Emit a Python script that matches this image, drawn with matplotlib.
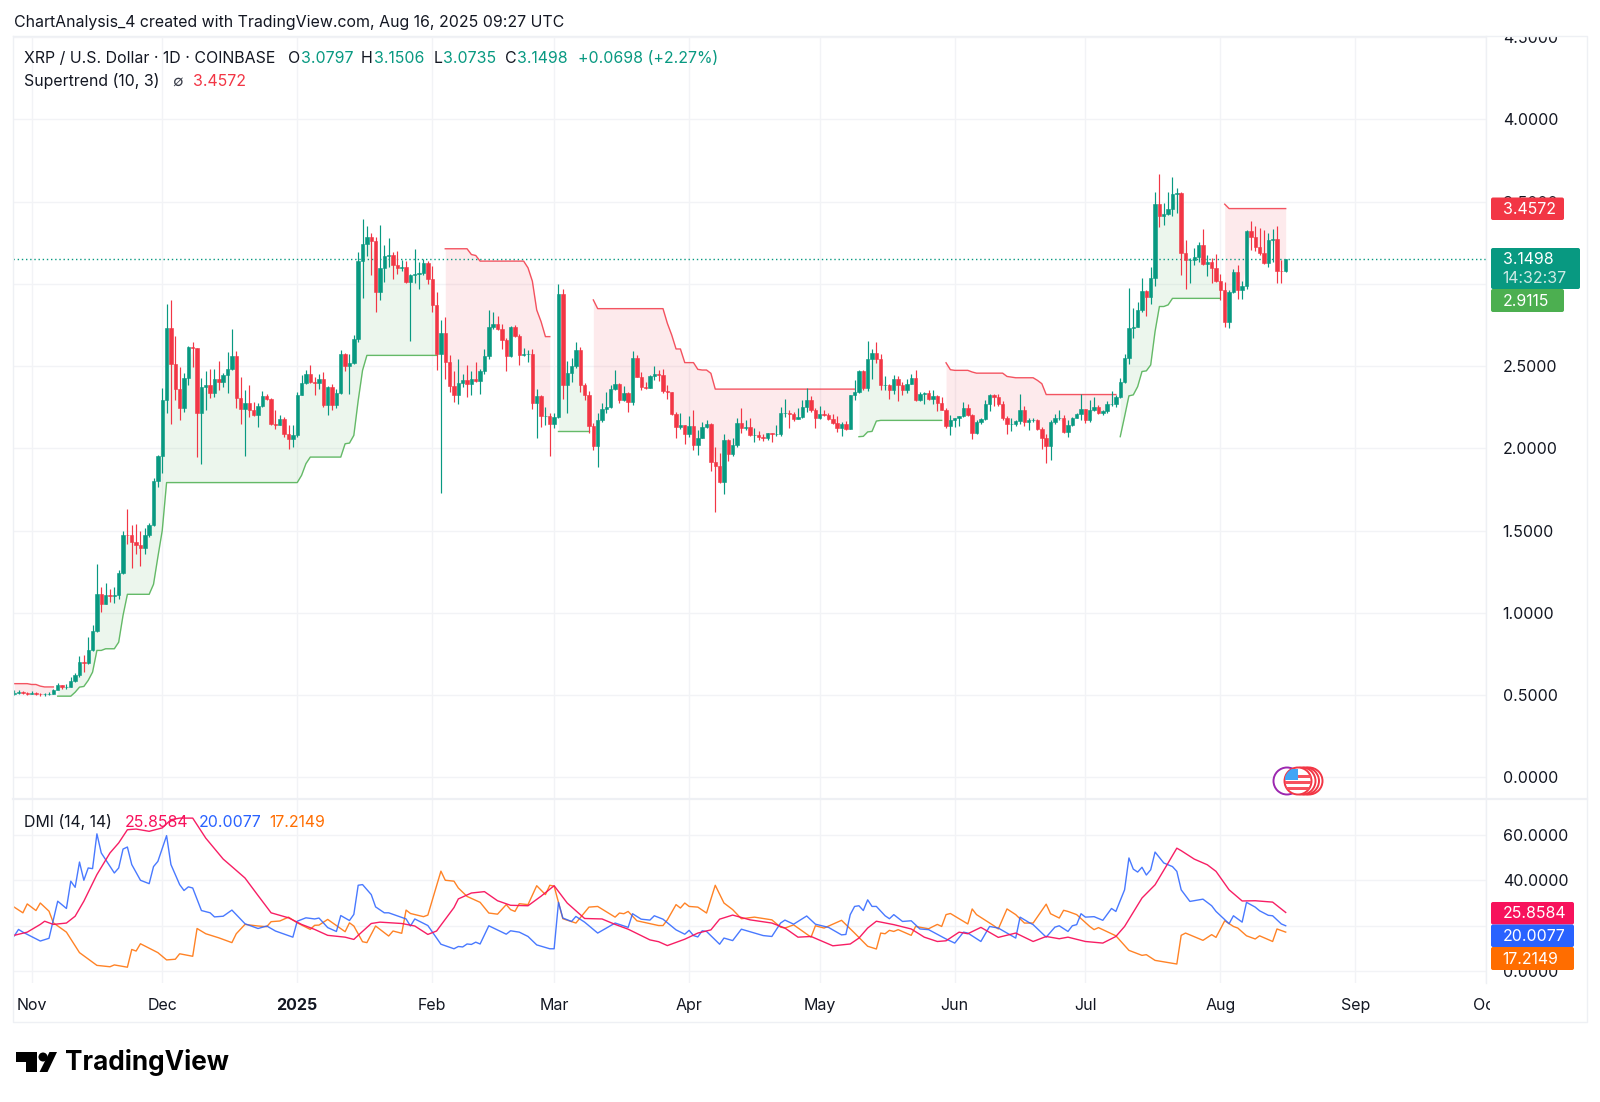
import matplotlib
matplotlib.use('Agg')
import matplotlib.pyplot as plt
import numpy as np
from matplotlib.patches import Circle, Polygon, Rectangle, FancyBboxPatch
from matplotlib.transforms import Bbox

plt.rcParams['font.family'] = ['Inter', 'DejaVu Sans']

W, H = 1600, 1102
GREEN = '#089981'
RED = '#F23645'
ST_GREEN = '#4CAF50'
PINK = '#F7125C'
BLUE = '#2962FF'
ORANGE = '#FF6D00'
GRID = '#F2F3F6'
FRAME = '#EEF0F4'
INK = '#131722'

# day numbers count from Nov 1 2024, first candle is Oct 28
first_day = -4
closes = [
    .515, .52, .515, .51, .515, .51, .505, .505, .51, .53,
    .559, .552, .552, .585, .624, .70, .697, .772, .89, 1.117,
    1.056, 1.106, 1.10, 1.106, 1.244, 1.476, 1.472, 1.431, 1.41, 1.397,
    1.472, 1.536, 1.802, 1.952, 2.293, 2.729, 2.512, 2.36, 2.246, 2.429,
    2.614, 2.608, 2.212, 2.374, 2.388, 2.338, 2.421, 2.405, 2.445, 2.482,
    2.563, 2.307, 2.238, 2.277, 2.232, 2.20, 2.259, 2.319, 2.297, 2.145,
    2.142, 2.18, 2.09, 2.055, 2.08, 2.326, 2.399, 2.449, 2.403, 2.397,
    2.419, 2.265, 2.372, 2.265, 2.338, 2.575, 2.50, 2.518, 2.666, 3.138,
    3.239, 3.287, 3.263, 2.953, 3.097, 3.168, 3.176, 3.117, 3.097, 3.101,
    3.014, 3.051, 3.061, 3.067, 3.128, 3.03, 2.874, 2.575, 2.70, 2.524,
    2.379, 2.322, 2.397, 2.417, 2.393, 2.419, 2.409, 2.468, 2.559, 2.737,
    2.757, 2.727, 2.66, 2.559, 2.737, 2.684, 2.565, 2.575, 2.575, 2.275,
    2.316, 2.194, 2.199, 2.146, 2.193, 2.938, 2.385, 2.456, 2.501, 2.598,
    2.385, 2.324, 2.136, 2.016, 2.172, 2.237, 2.253, 2.359, 2.391, 2.294,
    2.334, 2.284, 2.551, 2.436, 2.375, 2.365, 2.44, 2.452, 2.448, 2.351,
    2.341, 2.207, 2.132, 2.142, 2.087, 2.136, 2.02, 2.065, 2.128, 2.148,
    1.919, 1.895, 1.794, 2.051, 1.966, 2.02, 2.156, 2.122, 2.132, 2.081,
    2.081, 2.067, 2.065, 2.091, 2.087, 2.089, 2.213, 2.217, 2.209, 2.178,
    2.193, 2.249, 2.294, 2.235, 2.186, 2.211, 2.20, 2.18, 2.154, 2.123,
    2.15, 2.119, 2.322, 2.34, 2.47, 2.368, 2.54, 2.579, 2.545, 2.383,
    2.383, 2.352, 2.423, 2.383, 2.352, 2.393, 2.429, 2.291, 2.328, 2.338,
    2.302, 2.318, 2.275, 2.235, 2.136, 2.17, 2.184, 2.196, 2.247, 2.20,
    2.093, 2.16, 2.18, 2.267, 2.322, 2.312, 2.267, 2.186, 2.146, 2.15,
    2.164, 2.235, 2.16, 2.174, 2.174, 2.117, 2.063, 2.012, 2.16, 2.186,
    2.186, 2.099, 2.142, 2.187, 2.209, 2.24, 2.173, 2.234, 2.254, 2.217,
    2.225, 2.27, 2.27, 2.311, 2.406, 2.552, 2.734, 2.74, 2.841, 2.957,
    2.922, 3.038, 3.484, 3.415, 3.423, 3.453, 3.547, 3.551, 3.186, 3.145,
    3.145, 3.162, 3.237, 3.121, 3.131, 3.095, 3.018, 2.963, 2.77, 2.949,
    3.07, 2.963, 2.989, 3.322, 3.287, 3.226, 3.186, 3.125, 3.267, 3.273,
    3.08, 3.0797, 3.1498,
]
highs = [
    .53, .53, .525, .52, .525, .52, .515, .515, .52, .54,
    .575, .563, .565, .61, .634, .741, .747, .853, .924, 1.30,
    1.157, 1.18, 1.143, 1.157, 1.263, 1.50, 1.63, 1.532, 1.539, 1.50,
    1.518, 1.549, 1.82, 1.958, 2.364, 2.877, 2.90, 2.683, 2.496, 2.455,
    2.622, 2.648, 2.608, 2.425, 2.47, 2.48, 2.48, 2.532, 2.455, 2.583,
    2.723, 2.591, 2.431, 2.354, 2.384, 2.283, 2.273, 2.348, 2.33, 2.309,
    2.232, 2.20, 2.192, 2.141, 2.144, 2.342, 2.443, 2.478, 2.504, 2.433,
    2.453, 2.464, 2.377, 2.389, 2.362, 2.599, 2.579, 2.575, 2.686, 3.192,
    3.395, 3.35, 3.308, 3.283, 3.36, 3.233, 3.279, 3.192, 3.202, 3.142,
    3.138, 3.061, 3.213, 3.132, 3.148, 3.138, 3.111, 2.949, 2.781, 2.798,
    2.565, 2.47, 2.54, 2.453, 2.504, 2.47, 2.524, 2.484, 2.605, 2.838,
    2.828, 2.802, 2.757, 2.672, 2.741, 2.747, 2.696, 2.611, 2.595, 2.605,
    2.362, 2.322, 2.253, 2.213, 2.213, 2.999, 2.968, 2.533, 2.547, 2.648,
    2.614, 2.395, 2.351, 2.152, 2.213, 2.274, 2.344, 2.385, 2.476, 2.399,
    2.379, 2.344, 2.594, 2.567, 2.466, 2.405, 2.446, 2.503, 2.476, 2.48,
    2.385, 2.345, 2.223, 2.213, 2.142, 2.197, 2.233, 2.112, 2.162, 2.172,
    2.156, 2.01, 1.97, 2.087, 2.057, 2.061, 2.182, 2.243, 2.172, 2.182,
    2.122, 2.108, 2.087, 2.095, 2.095, 2.142, 2.253, 2.30, 2.233, 2.223,
    2.243, 2.294, 2.365, 2.316, 2.247, 2.259, 2.235, 2.215, 2.211, 2.194,
    2.16, 2.166, 2.326, 2.417, 2.474, 2.478, 2.652, 2.601, 2.646, 2.571,
    2.437, 2.393, 2.447, 2.439, 2.403, 2.423, 2.453, 2.478, 2.342, 2.342,
    2.352, 2.352, 2.322, 2.312, 2.247, 2.20, 2.186, 2.197, 2.281, 2.267,
    2.206, 2.174, 2.186, 2.296, 2.328, 2.328, 2.328, 2.287, 2.194, 2.186,
    2.174, 2.332, 2.259, 2.186, 2.182, 2.18, 2.13, 2.085, 2.174, 2.211,
    2.231, 2.20, 2.17, 2.193, 2.213, 2.329, 2.24, 2.294, 2.31, 2.264,
    2.234, 2.288, 2.351, 2.325, 2.43, 2.572, 2.977, 2.852, 2.892, 3.034,
    2.963, 3.101, 3.555, 3.666, 3.49, 3.557, 3.652, 3.581, 3.555, 3.267,
    3.155, 3.216, 3.253, 3.332, 3.176, 3.155, 3.18, 3.058, 3.01, 2.963,
    3.091, 3.115, 3.018, 3.328, 3.382, 3.354, 3.338, 3.324, 3.307, 3.332,
    3.352, 3.145, 3.1506,
]
lows = [
    .50, .505, .505, .50, .505, .50, .495, .495, .50, .505,
    .535, .54, .54, .549, .58, .61, .64, .687, .768, .883,
    1.005, 1.052, 1.066, 1.06, 1.086, 1.238, 1.42, 1.273, 1.36, 1.283,
    1.356, 1.461, 1.526, 1.766, 1.851, 2.212, 2.151, 2.293, 2.171, 2.222,
    2.384, 2.492, 1.948, 1.904, 2.232, 2.309, 2.313, 2.354, 2.374, 2.334,
    2.476, 2.246, 2.151, 1.952, 2.192, 2.196, 2.131, 2.253, 2.293, 2.141,
    2.115, 2.141, 2.07, 1.996, 2.008, 2.069, 2.322, 2.393, 2.397, 2.322,
    2.362, 2.251, 2.20, 2.235, 2.247, 2.332, 2.468, 2.328, 2.514, 2.646,
    2.915, 3.172, 3.055, 2.828, 2.903, 3.01, 3.10, 3.03, 3.057, 3.077,
    3.006, 2.652, 3.004, 2.966, 3.055, 3.0, 2.828, 2.474, 1.731, 2.423,
    2.342, 2.281, 2.271, 2.372, 2.312, 2.322, 2.403, 2.332, 2.453, 2.54,
    2.727, 2.717, 2.605, 2.468, 2.555, 2.676, 2.504, 2.561, 2.524, 2.237,
    2.065, 2.13, 2.142, 1.954, 2.122, 2.182, 2.298, 2.213, 2.405, 2.486,
    2.345, 2.294, 2.091, 1.99, 1.889, 2.162, 2.217, 2.243, 2.355, 2.274,
    2.288, 2.223, 2.264, 2.432, 2.355, 2.359, 2.365, 2.415, 2.41, 2.335,
    2.30, 2.20, 2.061, 2.116, 2.026, 2.071, 1.99, 1.96, 2.061, 2.122,
    1.863, 1.615, 1.788, 1.723, 1.925, 1.954, 2.01, 2.091, 2.112, 2.075,
    2.041, 2.051, 2.047, 2.051, 2.041, 2.075, 2.075, 2.193, 2.122, 2.168,
    2.178, 2.183, 2.223, 2.221, 2.125, 2.18, 2.194, 2.174, 2.146, 2.099,
    2.075, 2.109, 2.117, 2.296, 2.338, 2.352, 2.348, 2.423, 2.52, 2.352,
    2.352, 2.302, 2.332, 2.285, 2.322, 2.338, 2.389, 2.287, 2.287, 2.267,
    2.291, 2.271, 2.227, 2.231, 2.126, 2.083, 2.13, 2.134, 2.19, 2.194,
    2.059, 2.085, 2.146, 2.17, 2.227, 2.255, 2.26, 2.17, 2.085, 2.105,
    2.136, 2.15, 2.134, 2.113, 2.16, 2.113, 1.998, 1.911, 1.927, 2.146,
    2.174, 2.093, 2.069, 2.136, 2.183, 2.173, 2.153, 2.163, 2.227, 2.207,
    2.203, 2.213, 2.26, 2.254, 2.304, 2.396, 2.513, 2.669, 2.736, 2.831,
    2.807, 2.878, 2.989, 3.348, 3.358, 3.419, 3.415, 3.429, 3.054, 2.967,
    3.004, 3.115, 3.135, 3.115, 3.05, 3.004, 3.01, 2.902, 2.74, 2.734,
    2.943, 2.906, 2.906, 2.969, 3.206, 3.2, 3.176, 3.121, 3.105, 3.135,
    3.004, 3.004, 3.0735,
]
first_open = .51

# supertrend runs: start day and one value per day
st_red_1 = (-4, [.57, .57, .57, .57, .565, .565, .555, .55, .55, .55])
st_green_1 = (6, [.494, .494, .494, .494, .518, .549, .553, .59, .64, .772, .772, .782, .782, .782,
                  .822, .985, 1.113, 1.113, 1.113, 1.113, 1.113, 1.113, 1.174, 1.34, 1.50]
              + [1.792] * 31
              + [1.836, 1.907] + [1.947] * 8 + [2.028, 2.032, 2.079, 2.29, 2.474] + [2.565] * 17)
st_red_2 = (95, [3.213] * 6 + [3.178, 3.172] + [3.138] * 11 + [3.097, 3.016, 2.841, 2.77, 2.679, 2.679])
st_green_2 = (121, [2.106] * 8)
st_red_3 = (129, [2.902] + [2.849] * 16 + [2.76, 2.689, 2.604, 2.604, 2.521, 2.521, 2.521, 2.48,
                                           2.476, 2.476, 2.456] + [2.36] * 33)
st_green_3 = (190, [2.071, 2.073, 2.10, 2.103, 2.166] + [2.17] * 15)
st_red_4 = (210, [2.52, 2.478, 2.474, 2.474, 2.474, 2.474, 2.464] + [2.457] * 7
            + [2.437, 2.433, 2.429, 2.429, 2.429, 2.429, 2.429, 2.413, 2.393] + [2.327] * 17)
st_green_4 = (250, [2.071, 2.193, 2.319, 2.325, 2.375, 2.467, 2.471, 2.507, 2.71, 2.862, 2.862, 2.872]
              + [2.9115] * 12)
st_red_5 = (274, [3.484] + [3.4572] * 14)

adx_days = [-4, -1, 2, 3, 5, 8, 10, 12, 15, 18, 20, 22, 24, 27, 30, 32, 34, 37, 40, 44, 46, 49, 52, 55, 59, 62,
            65, 68, 72, 74, 75, 78, 80, 85, 88, 91, 93, 97, 98, 101, 104, 107, 110, 114, 117, 120, 123, 127,
            131, 134, 137, 142, 144, 146, 150, 153, 156, 158, 161, 165, 170, 173, 176, 179, 184, 188, 190,
            192, 194, 198, 202, 205, 208, 210, 213, 215, 218, 222, 226, 230, 233, 236, 238, 242, 246, 249,
            251, 255, 258, 261, 263, 264, 267, 270, 272, 275, 278, 281, 285, 288]
adx_vals = [15.8, 17.2, 20.6, 22, 20.6, 21.2, 24.2, 30.8, 42.5, 52, 56.4, 62.2, 62.5, 61.5, 63, 66.6, 67.3, 67.3,
            58.5, 49.3, 46, 41, 33.3, 25.7, 23.5, 20.6, 18.4, 15.8, 15, 14, 15.8, 21, 21.6, 21, 19.9, 16.2,
            17.7, 28, 31.8, 34.4, 35, 31, 29, 28.8, 33, 37.6, 30, 23.2, 23, 20.6, 18.5, 13.8, 13, 11.3, 14.1,
            16.8, 18.2, 22.9, 24.7, 22.6, 21.2, 19, 15, 15.3, 11.2, 12, 14.6, 19, 22, 20.5, 18.6, 15, 13.1,
            13.4, 17.2, 16.5, 19.3, 14.9, 16.8, 13.1, 15.3, 14.3, 15, 13.1, 12.4, 15.3, 19.7, 32.2, 38, 47.6,
            54.1, 53, 49.3, 46.8, 43.9, 35.8, 30.9, 31, 30.4, 25.8584]
plus_days = [-4, -3, -2, 2, 4, 6, 8, 9, 10, 11, 12, 13, 14, 15, 16, 19, 20, 21, 22, 23, 25, 27, 28, 29, 31, 32,
             34, 35, 36, 37, 39, 41, 42, 44, 46, 49, 52, 54, 56, 60, 61, 63, 65, 66, 68, 70, 71, 73, 74, 75,
             76, 78, 79, 81, 82, 86, 87, 88, 91, 94, 97, 98, 99, 100, 101, 102, 103, 105, 109, 110, 112, 114,
             116, 119, 120, 121, 122, 124, 125, 127, 130, 134, 137, 138, 140, 142, 143, 145, 148, 150, 151,
             152, 153, 154, 155, 158, 159, 161, 163, 168, 170, 172, 173, 175, 178, 180, 183, 186, 187, 188,
             189, 190, 191, 192, 193, 194, 196, 197, 198, 200, 202, 204, 206, 210, 212, 214, 215, 218, 220,
             222, 226, 227, 229, 230, 233, 235, 236, 238, 239, 240, 241, 242, 244, 246, 248, 249, 251, 252,
             253, 254, 255, 256, 257, 258, 260, 262, 263, 264, 266, 269, 271, 272, 275, 276, 278, 279, 281,
             282, 284, 285, 287, 288]
plus_vals = [15.5, 18.4, 17.2, 13.3, 14.5, 30.8, 27.6, 39.6, 36.9, 48, 40, 45.4, 45.1, 60.4, 52, 43.2, 45.4, 53.7,
             54.6, 46.9, 40, 38.5, 46, 48.3, 59.6, 46.9, 38.1, 35.5, 37.1, 36.6, 26.7, 25.7, 23.9, 24.2, 26.9,
             20.9, 18.8, 19.9, 17.7, 15, 22, 23.5, 23, 23.4, 19.2, 17.5, 24.5, 22.3, 25, 37.8, 38.1, 33.7, 28.3,
             25.7, 25.7, 23, 19.9, 23, 20.1, 11.9, 9.9, 10.9, 10.7, 12, 11.8, 12.8, 12, 20, 16.3, 17.8, 17.2,
             15.3, 11.6, 9.9, 9.9, 30.3, 23.4, 21.9, 24.1, 21.6, 16.8, 21.2, 19.3, 25.3, 22.9, 22.5, 24.4, 22.9,
             18.2, 16.3, 18, 15.7, 15.1, 17.8, 17.5, 11.9, 14.6, 13.5, 18.5, 15.7, 15.3, 21.2, 22.5, 20.7, 24.3,
             20.7, 19.3, 16, 16.2, 24.9, 28.5, 28.8, 26.7, 31.4, 28.5, 28.5, 24.4, 23.1, 24.9, 21.9, 22.2, 18.6,
             18.3, 14.2, 12.4, 17.2, 16.8, 13.1, 19.7, 19, 14.6, 23.8, 21.5, 20.5, 15, 19.4, 20, 17.5, 20, 20.5,
             25.3, 23.8, 24, 22.4, 27.6, 26.3, 35.8, 49.8, 44.9, 43.6, 45.7, 42.3, 44.6, 52.4, 47.6, 46, 43.9,
             35.8, 30.7, 31.7, 28.8, 26.3, 20.9, 24.4, 21.6, 30.3, 28.2, 26.6, 24.6, 24.4, 20.8, 20.0077]
minus_days = [-4, -2, -1, 1, 2, 4, 5, 8, 11, 15, 18, 19, 22, 23, 24, 25, 29, 31, 33, 34, 37, 38, 40, 43, 46, 47,
              49, 52, 54, 55, 57, 59, 61, 64, 65, 66, 68, 72, 73, 74, 76, 77, 79, 82, 83, 85, 86, 87, 90, 91,
              94, 95, 97, 98, 100, 103, 105, 107, 109, 110, 111, 112, 114, 116, 118, 119, 120, 122, 125, 128,
              130, 134, 135, 136, 137, 139, 144, 145, 146, 148, 149, 150, 151, 153, 155, 157, 159, 161, 163,
              166, 170, 172, 173, 175, 179, 180, 182, 186, 189, 192, 194, 195, 196, 197, 198, 199, 202, 203,
              206, 208, 209, 210, 211, 215, 216, 217, 221, 222, 224, 226, 228, 230, 233, 234, 236, 237, 238,
              240, 243, 244, 245, 249, 252, 255, 256, 258, 263, 264, 265, 269, 271, 272, 274, 276, 277, 279,
              281, 282, 285, 286, 288]
minus_vals = [28.2, 25.7, 29.6, 26.7, 30, 26.4, 21.3, 17.2, 8.2, 2.6, 2, 2.8, 1.8, 9.6, 8.9, 12.1, 8.2, 5, 5.3,
              7.7, 6.6, 18.8, 16.5, 14.7, 12.6, 16.5, 20.6, 19.9, 19.6, 21.8, 22.1, 23.8, 21.3, 18.4, 20.2, 20.3,
              22.8, 17.4, 21.3, 19.9, 13, 12.6, 19.9, 15.5, 17.7, 16.7, 26.9, 25.4, 24, 24.7, 44, 40, 39.6, 36.6,
              32.9, 30.3, 25.6, 25.1, 29.3, 27.1, 26.3, 29.7, 29.3, 37.6, 33.7, 37.8, 37.4, 23.1, 21.2, 28.2,
              28.5, 23.8, 25.6, 25.3, 26.3, 22.2, 20.1, 20.1, 22.6, 29.3, 27.8, 30, 28.5, 28.2, 25.6, 37.8, 30,
              27.1, 23.1, 23.8, 22.6, 19.4, 19, 20.4, 15, 20, 19, 22.4, 16.8, 11, 9.8, 16.8, 16.5, 18, 17.5, 18.3,
              15.8, 19.7, 18.7, 20.6, 19.7, 24.9, 25.4, 20.8, 27.4, 24.9, 20, 18.6, 27.4, 24.9, 21.2, 21.2, 29.5,
              25.3, 23.4, 26.8, 26.3, 24.9, 19.7, 18.3, 19.2, 15.6, 9.2, 7, 7.3, 4.8, 3.2, 15.8, 16.8, 13.6, 16.1,
              14.9, 22.2, 19.7, 19, 15.6, 14.2, 15.6, 13.1, 18.6, 17.2149]

month_days = [0, 30, 61, 92, 120, 151, 181, 212, 242, 273, 304, 334]
month_labels = ['Nov', 'Dec', '2025', 'Feb', 'Mar', 'Apr', 'May', 'Jun', 'Jul', 'Aug', 'Sep', 'Oct']
price_ticks = [0, .5, 1, 1.5, 2, 2.5, 3, 3.5, 4, 4.5]
dmi_ticks = [0, 20, 40, 60]
# these two labels sit fully behind the value tags
hidden_ticks = [3, 20]

fig = plt.figure(figsize=(W / 100, H / 100), dpi=100, facecolor='white')


def box(left, top, right, bottom):
    return [left / W, 1 - bottom / H, (right - left) / W, (bottom - top) / H]


ax = fig.add_axes(box(13, 36, 1486, 799))
ax_dmi = fig.add_axes(box(13, 799, 1486, 983), sharex=ax)

days = np.arange(first_day, first_day + len(closes))
closes = np.array(closes)
highs = np.array(highs)
lows = np.array(lows)
opens = np.r_[first_open, closes[:-1]]
colors = [GREEN if c >= o else RED for o, c in zip(opens, closes)]
mids = (opens + closes) / 2

# supertrend with fill to the candle body middle
for start, vals, col in [(*st_red_1, RED), (*st_green_1, ST_GREEN), (*st_red_2, RED), (*st_green_2, ST_GREEN),
                         (*st_red_3, RED), (*st_green_3, ST_GREEN), (*st_red_4, RED), (*st_green_4, ST_GREEN),
                         (*st_red_5, RED)]:
    seg = np.arange(start, start + len(vals))
    ax.fill_between(seg, vals, mids[seg - first_day], color=col, alpha=0.1, lw=0, zorder=1)
    ax.plot(seg, vals, color=col, lw=1.0, alpha=0.85, zorder=2, solid_joinstyle='round')

ax.axhline(closes[-1], color=GREEN, lw=1, ls=(0, (1, 2)), zorder=2)
ax.vlines(days, lows, highs, colors=colors, lw=0.85, zorder=3)
ax.bar(days, closes - opens, bottom=opens, width=0.78, color=colors, edgecolor=colors, lw=0.4, zorder=4)

ax_dmi.plot(minus_days, minus_vals, color=ORANGE, lw=1.0, alpha=0.85, zorder=3)
ax_dmi.plot(plus_days, plus_vals, color=BLUE, lw=1.0, alpha=0.85, zorder=4)
ax_dmi.plot(adx_days, adx_vals, color=PINK, lw=1.0, alpha=0.95, zorder=5)

ax.set_xlim(-4.27, 333.9)
ax.set_ylim(-0.131, 4.506)
ax_dmi.set_ylim(-5.14, 75.7)

for a in (ax, ax_dmi):
    a.set_facecolor('none')
    a.grid(True, color=GRID, lw=1.0)
    a.set_axisbelow(True)
    a.yaxis.tick_right()
    for s in a.spines.values():
        s.set_visible(False)
    a.tick_params(length=0)

ax.set_yticks(price_ticks)
ax.set_yticklabels(['' if t in hidden_ticks else f'{t:.4f}' for t in price_ticks], fontsize=11.5, color=INK)
ax_dmi.set_yticks(dmi_ticks)
ax_dmi.set_yticklabels(['' if t in hidden_ticks else f'{t:.4f}' for t in dmi_ticks], fontsize=11.5, color=INK)
ax.tick_params(axis='y', pad=12)
ax_dmi.tick_params(axis='y', pad=12)
ax.tick_params(axis='x', labelbottom=False)
ax_dmi.set_xticks(month_days)
ax_dmi.set_xticklabels(month_labels, fontsize=11.5, color=INK)
ax_dmi.tick_params(axis='x', pad=11)
for lab in ax_dmi.get_xticklabels():
    lab.set_clip_box(Bbox([[0, 0], [1490, H]]))
    lab.set_clip_on(True)
    if lab.get_text() == '2025':
        lab.set_fontweight('bold')
for lab in ax.get_yticklabels():
    lab.set_clip_box(Bbox([[0, 0], [W, H - 36]]))
    lab.set_clip_on(True)

# everything else is placed in picture pixels
over = fig.add_axes([0, 0, 1, 1], zorder=10)
over.set_xlim(0, W)
over.set_ylim(H, 0)
over.axis('off')
over.patch.set_alpha(0)


def put(x, y, s, color=INK, size=11.45, **kw):
    kw.setdefault('va', 'center')
    over.text(x, y + 1.2, s, color=color, fontsize=size, **kw)


def tag(left, top, right, bottom, color):
    over.add_patch(FancyBboxPatch((left + 1, top + 1), right - left - 2, bottom - top - 2,
                                  boxstyle='round,pad=1,rounding_size=2', fc=color, ec='none'))


# frame lines
over.plot([13, 1587, 1587, 13, 13], [36, 36, 1022, 1022, 36], color=FRAME, lw=1)
over.plot([13, 1587], [799, 799], color=FRAME, lw=1.6)
over.plot([1486, 1486], [36, 983], color=FRAME, lw=1)

put(14, 21, 'ChartAnalysis_4 created with TradingView.com, Aug 16, 2025 09:27 UTC')

put(24.5, 57.5, 'XRP / U.S. Dollar · 1D · COINBASE')
for x, s in [(288, 'O'), (361, 'H'), (434, 'L'), (505, 'C')]:
    put(x, 57.5, s)
for x, s in [(301, '3.0797'), (374, '3.1506'), (443, '3.0735'), (517, '3.1498'), (577.5, '+0.0698 (+2.27%)')]:
    put(x, 57.5, s, color=GREEN)
put(24.5, 80, 'Supertrend (10, 3)')
put(177.5, 79.5, '∅', size=11, color='#3a3e4a', ha='center')
put(193, 80, '3.4572', color=RED)

put(24.5, 821, 'DMI (14, 14)')
put(125, 821, '25.8584', color=PINK)
put(199, 821, '20.0077', color=BLUE)
put(269, 821, '17.2149', color=ORANGE)

# price tags
tag(1491, 197.5, 1564, 220, RED)
put(1502.5, 208, '3.4572', color='white')
tag(1491, 248, 1580, 289, GREEN)
put(1502.5, 258.5, '3.1498', color='white')
put(1502.5, 277.5, '14:32:37', color='#CFEAE5')
tag(1491, 289, 1564, 312, ST_GREEN)
put(1502.5, 300, '2.9115', color='white')
tag(1491, 902, 1574, 924.5, PINK)
put(1502.5, 912.5, '25.8584', color='white')
tag(1491, 924.5, 1574, 947, BLUE)
put(1502.5, 935.5, '20.0077', color='white')
tag(1491, 947, 1574, 970, ORANGE)
put(1502.5, 958, '17.2149', color='white')

# economic event badges
over.add_patch(Circle((1287, 781), 13.5, fc='white', ec='#9C27B0', lw=1.4))
for cx in (1309, 1305.5, 1302):
    over.add_patch(Circle((cx, 781), 13.5, fc='white', ec='#F23645', lw=1.4))
flag = Circle((1298, 781), 13.5, fc='white', ec='#F23645', lw=1.4)
over.add_patch(flag)
for sy in (775, 781, 787):
    stripe = Rectangle((1285, sy), 26, 2.6, fc='#F7525F', ec='none')
    over.add_patch(stripe)
    stripe.set_clip_path(flag)
canton = Rectangle((1285, 769), 13, 11, fc='#42A5F5', ec='none')
over.add_patch(canton)
canton.set_clip_path(flag)

# logo
over.add_patch(Polygon([(15.5, 1052), (37, 1052), (37, 1072), (26, 1072), (26, 1062), (15.5, 1062)], fc='#000000', ec='none'))
over.add_patch(Circle((43, 1057), 4.5, fc='#000000', ec='none'))
over.add_patch(Polygon([(49.5, 1052), (57, 1052), (47.5, 1072), (39.5, 1072)], fc='#000000', ec='none'))
put(65, 1061, 'TradingView', color='#000000', size=18.8, fontweight='bold')

fig.savefig('out.png', dpi=100, facecolor='white')
